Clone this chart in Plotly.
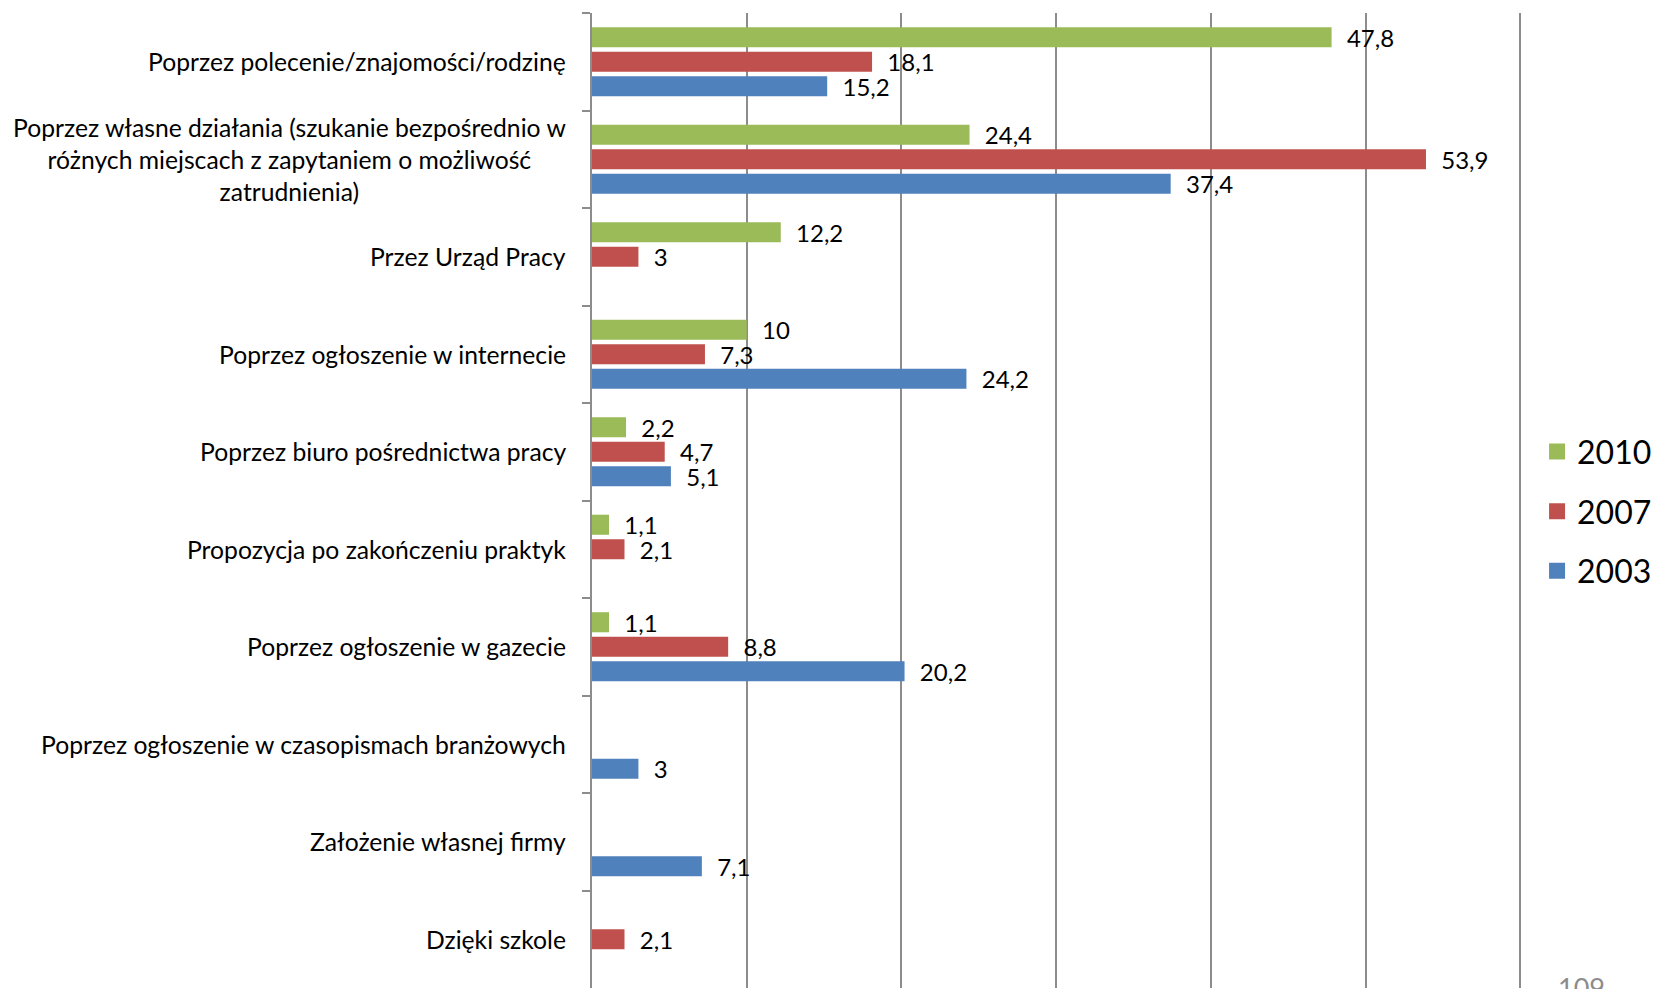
import plotly.graph_objects as go

categories = [
    "Poprzez polecenie/znajomości/rodzinę",
    "Poprzez własne działania (szukanie bezpośrednio w<br>różnych miejscach z zapytaniem o możliwość<br>zatrudnienia)",
    "Przez Urząd Pracy",
    "Poprzez ogłoszenie w internecie",
    "Poprzez biuro pośrednictwa pracy",
    "Propozycja po zakończeniu praktyk",
    "Poprzez ogłoszenie w gazecie",
    "Poprzez ogłoszenie w czasopismach branżowych",
    "Założenie własnej firmy",
    "Dzięki szkole",
]
years = ["2010", "2007", "2003"]
v2010 = [47.8, 24.4, 12.2, 10, 2.2, 1.1, 1.1, None, None, None]
v2007 = [18.1, 53.9, 3, 7.3, 4.7, 2.1, 8.8, None, None, 2.1]
v2003 = [15.2, 37.4, None, 24.2, 5.1, None, 20.2, 3, 7.1, None]
colors = ["#9BBB59", "#C0504D", "#4F81BD"]
page_number = "109"

FONT = "Lato, 'Liberation Sans', sans-serif"

def fmt(v):
    if v is None:
        return ""
    s = ("%g" % v).replace(".", ",")
    return "\u00a0\u00a0" + s

fig = go.Figure()
for name, vals, col in zip(years, [v2010, v2007, v2003], colors):
    fig.add_trace(go.Bar(
        y=categories, x=vals, orientation="h", name=name,
        marker=dict(color=col, line=dict(width=0)),
        text=[fmt(v) for v in vals], textposition="outside",
        textfont=dict(family=FONT, size=24, color="black"),
        constraintext="none", cliponaxis=False,
        showlegend=False,
    ))

# legend entries (larger square symbols)
for name, col in zip(years, colors):
    fig.add_trace(go.Scatter(
        x=[None], y=[None], mode="markers", name=name,
        marker=dict(symbol="square", size=21, color=col),
        legendgroup=name, showlegend=True,
    ))

for c in categories:
    fig.add_annotation(
        x=0, xref="paper", y=c, yref="y", text=c, showarrow=False,
        xanchor="right", xshift=-24, align="center",
        font=dict(family=FONT, size=24.7, color="black"),
    )

fig.add_annotation(
    x=1.061, xref="paper", y=0.02, yref="paper", text=page_number,
    showarrow=False, xanchor="center", yanchor="top",
    font=dict(family=FONT, size=27, color="#8c8c8c"),
)

fig.update_layout(
    width=1654, height=989,
    margin=dict(l=592, r=129, t=13, b=1, autoexpand=False),
    paper_bgcolor="white", plot_bgcolor="white",
    barmode="group", bargap=0.246, bargroupgap=0.18,
    showlegend=True,
    legend=dict(
        xref="container", x=0.9293, xanchor="left",
        y=0.489, yanchor="middle",
        font=dict(family=FONT, size=32, color="black"),
        tracegroupgap=15, bgcolor="rgba(0,0,0,0)",
    ),
    xaxis=dict(
        range=[0, 60.3], tick0=0, dtick=10, showgrid=True, gridcolor="#8c8c8c",
        gridwidth=1.5, showticklabels=False, zeroline=False,
        showline=False, fixedrange=True,
    ),
    yaxis=dict(
        autorange="reversed", showticklabels=False, showline=True,
        linecolor="#8c8c8c", linewidth=1.5, ticks="outside",
        tickson="boundaries", ticklen=8, tickcolor="#8c8c8c",
        tickwidth=1.5, showgrid=False, fixedrange=True,
    ),
)

fig.write_html(
    "out.html",
    config={"displayModeBar": False},
    post_script="document.body.style.margin='0';document.body.style.overflow='hidden';",
)
